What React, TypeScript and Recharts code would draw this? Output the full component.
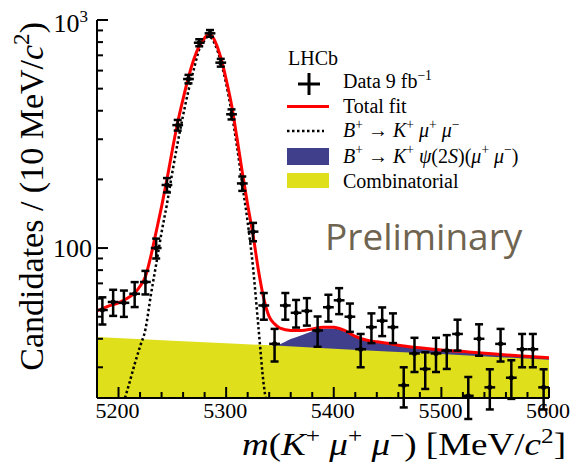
import React from 'react'
import {
  ComposedChart,
  XAxis,
  YAxis,
  Area,
  Line,
  Scatter,
  ErrorBar,
  Legend,
  Customized,
} from 'recharts'

// data: candidates per 10 MeV bin
const binCentres = [
  5185, 5195, 5205, 5215, 5225, 5235, 5245, 5255, 5265, 5275,
  5285, 5295, 5305, 5315, 5325, 5335, 5345, 5355, 5365, 5375,
  5385, 5395, 5405, 5415, 5425, 5435, 5445, 5455, 5465, 5475,
  5485, 5495, 5505, 5515, 5525, 5535, 5545, 5555, 5565, 5575,
  5585, 5595,
]
const candidates = [
  53.5, 58, 57.5, 63, 71, 100, 189, 346, 551, 795,
  874, 650, 386, 192, 118, 56, 38, 56, 52, 53,
  43.5, 55, 59, 50, 36, 45, 48, 45, 25, 34.5,
  29.5, 34.5, 35.5, 42, 22.5, 40, 24.5, 38, 27, 36,
  36, 24.5,
]
const candidateErrors = [
  7.3, 7.6, 7.6, 7.9, 8.4, 10, 13.7, 18.6, 23.5, 28.2,
  29.6, 25.5, 19.6, 13.9, 10.9, 7.5, 6.2, 7.5, 7.2, 7.3,
  6.6, 7.4, 7.7, 7.1, 6, 6.7, 6.9, 6.7, 5, 5.9,
  5.4, 5.9, 6, 6.5, 4.7, 6.3, 4.9, 6.2, 5.2, 6,
  6, 4.9,
]
const halfBin = 5

// total fit (red)
const totalMass = [
  5180, 5190, 5200, 5210, 5215, 5220, 5225, 5230, 5235, 5240,
  5245, 5250, 5255, 5260, 5265, 5270, 5275, 5280, 5283, 5286,
  5290, 5295, 5300, 5305, 5310, 5315, 5320, 5325, 5330, 5335,
  5340, 5345, 5350, 5360, 5370, 5380, 5390, 5400, 5410, 5420,
  5430, 5440, 5450, 5460, 5480, 5500, 5525, 5550, 5575, 5600,
]
const totalValues = [
  53, 55.5, 57.5, 61, 63.5, 68, 75, 92, 118, 152,
  200, 269, 356, 451, 561, 673, 769, 834, 862, 858,
  800, 685, 550, 425, 305, 215, 155, 114, 80, 60,
  50, 46.5, 44.5, 43.5, 43.5, 44.2, 45, 45, 43.5, 41,
  39.5, 38.8, 38.2, 37.5, 36.5, 35.7, 35, 34.3, 33.6, 33,
]

// B+ -> K+ mu+ mu- signal (dotted)
const signalMass = [
  5206, 5210, 5215, 5220, 5225, 5230, 5235, 5240, 5245, 5250,
  5255, 5260, 5265, 5270, 5275, 5280, 5283, 5286, 5290, 5295,
  5300, 5305, 5310, 5315, 5320, 5325, 5330, 5335, 5337,
]
const signalValues = [
  22, 25.5, 31, 37, 44, 62, 85, 117, 156, 215,
  290, 382, 491, 608, 743, 815, 845, 835, 775, 660,
  525, 395, 280, 190, 130, 82, 45, 25, 21.5,
]

// psi(2S) component, top edge of the stack (blue)
const psiMass = [5340, 5350, 5360, 5370, 5380, 5390, 5400, 5410, 5420, 5430, 5440, 5450, 5460, 5480, 5500, 5550, 5600]
const psiTop = [37, 37.9, 39.9, 41.5, 43.2, 44.3, 44.4, 43, 41, 39.5, 38.7, 38, 37.4, 36.4, 35.6, 34.2, 32.9]

// combinatorial (yellow)
const combMass = [5180, 5250, 5300, 5350, 5400, 5450, 5500, 5550, 5600]
const combValues = [40.7, 39.2, 38.2, 37.3, 36.2, 35.2, 34.3, 33.3, 32.4]

const xTicks = [
  5200, 5220, 5240, 5260, 5280, 5300, 5320, 5340, 5360, 5380, 5400,
  5420, 5440, 5460, 5480, 5500, 5520, 5540, 5560, 5580, 5600,
]
const yTicks = [30, 40, 50, 60, 70, 80, 90, 100, 200, 300, 400, 500, 600, 700, 800, 900, 1000]

const SERIF = '"Liberation Serif", "Times New Roman", serif'
const YELLOW = '#dfdf1c'
const BLUE = '#3f3f8c'

const points = binCentres.map((m, i) => ({ m, v: candidates[i], err: candidateErrors[i], xerr: halfBin }))
const totalData = totalMass.map((m, i) => ({ m, v: totalValues[i] }))
const signalData = signalMass.map((m, i) => ({ m, v: signalValues[i] }))
const psiData = psiMass.map((m, i) => ({ m, v: psiTop[i] }))
const combData = combMass.map((m, i) => ({ m, v: combValues[i] }))

type Seg = { t: string; i?: boolean; s?: boolean }

// text with italics and superscripts, ROOT TLatex style
function Rich({ segs, size, lift = 0.42 }: { segs: Seg[]; size: number; lift?: number }) {
  let lifted = false
  const rise = size * lift
  return (
    <>
      {segs.map((g, k) => {
        let dy = 0
        if (g.s && !lifted) {
          dy = -rise
          lifted = true
        } else if (!g.s && lifted) {
          dy = rise
          lifted = false
        }
        return (
          <tspan
            key={k}
            dy={dy || undefined}
            fontStyle={g.i ? 'italic' : undefined}
            fontSize={g.s ? size * 0.68 : undefined}
          >
            {g.t}
          </tspan>
        )
      })}
    </>
  )
}

const yTitle: Seg[] = [{ t: 'Candidates / (10 MeV/' }, { t: 'c', i: true }, { t: '2', s: true }, { t: ')' }]
const xTitle: Seg[] = [
  { t: 'm', i: true }, { t: '(' }, { t: 'K', i: true }, { t: '+', s: true }, { t: ' ' },
  { t: 'μ', i: true }, { t: '+', s: true }, { t: ' ' }, { t: 'μ', i: true }, { t: '−', s: true },
  { t: ') [MeV/' }, { t: 'c', i: true }, { t: '2', s: true }, { t: ']' },
]
const dataLabel: Seg[] = [{ t: 'Data 9 fb' }, { t: '−1', s: true }]
const signalLabel: Seg[] = [
  { t: 'B', i: true }, { t: '+', s: true }, { t: ' → ' }, { t: 'K', i: true }, { t: '+', s: true }, { t: ' ' },
  { t: 'μ', i: true }, { t: '+', s: true }, { t: ' ' }, { t: 'μ', i: true }, { t: '−', s: true },
]
const psiLabel: Seg[] = [
  { t: 'B', i: true }, { t: '+', s: true }, { t: ' → ' }, { t: 'K', i: true }, { t: '+', s: true }, { t: ' ' },
  { t: 'ψ', i: true }, { t: '(2' }, { t: 'S', i: true }, { t: ')(' }, { t: 'μ', i: true }, { t: '+', s: true },
  { t: ' ' }, { t: 'μ', i: true }, { t: '−', s: true }, { t: ')' },
]

const MAJOR = 11
const MINOR = 6

function BottomTick({ x, y, payload }: any) {
  const major = payload.value % 100 === 0
  return (
    <g>
      <line x1={x} x2={x} y1={y} y2={y - (major ? MAJOR : MINOR)} stroke="#000" strokeWidth={2} />
      {major && (
        <text x={x - 1} y={y + 20} textAnchor="middle" fontSize={22} fontFamily={SERIF} fill="#000">
          {payload.value}
        </text>
      )}
    </g>
  )
}

function TopTick({ x, y, payload }: any) {
  const major = payload.value % 100 === 0
  return <line x1={x} x2={x} y1={y} y2={y + (major ? MAJOR : MINOR)} stroke="#000" strokeWidth={2} />
}

function LeftTick({ x, y, payload }: any) {
  const v = payload.value
  const major = v === 100 || v === 1000
  return (
    <g>
      <line x1={x} x2={x + (major ? MAJOR : MINOR)} y1={y} y2={y} stroke="#000" strokeWidth={2} />
      {v === 100 && (
        <text x={x - 5} y={y + 9} textAnchor="end" fontSize={26} fontFamily={SERIF} fill="#000">
          100
        </text>
      )}
      {v === 1000 && (
        <text x={x - 9} y={y + 12} textAnchor="end" fontSize={26} fontFamily={SERIF} fill="#000">
          10<tspan dy={-10} fontSize={17}>3</tspan>
        </text>
      )}
    </g>
  )
}

function RightTick({ x, y, payload }: any) {
  const major = payload.value === 100 || payload.value === 1000
  return <line x1={x} x2={x - (major ? MAJOR : MINOR)} y1={y} y2={y} stroke="#000" strokeWidth={2} />
}

function YTitle({ viewBox }: any) {
  const x = 43
  const y = viewBox.y + 2
  return (
    <text
      x={x}
      y={y}
      transform={`rotate(-90, ${x}, ${y})`}
      textAnchor="end"
      fontSize={34}
      fontFamily={SERIF}
      fill="#000"
      style={{ whiteSpace: 'pre' }}
    >
      <Rich segs={yTitle} size={34} />
    </text>
  )
}

function XTitle({ viewBox }: any) {
  return (
    <text
      x={viewBox.x + 145}
      y={viewBox.y + 57}
      textLength={324}
      lengthAdjust="spacingAndGlyphs"
      fontSize={32}
      fontFamily={SERIF}
      fill="#000"
      style={{ whiteSpace: 'pre' }}
    >
      <Rich segs={xTitle} size={32} lift={0.36} />
    </text>
  )
}

function Marker({ cx, cy }: any) {
  return <circle cx={cx} cy={cy} r={2.5} fill="#000" />
}

// legend box, drawn the ROOT way
function LegendBox() {
  const tx = 63
  const fs = 20
  const text = (y: number, segs: Seg[]) => (
    <text x={tx} y={y} fontSize={fs} fontFamily={SERIF} fill="#000" style={{ whiteSpace: 'pre' }}>
      <Rich segs={segs} size={fs} />
    </text>
  )
  return (
    <svg width={290} height={160}>
      <text x={8} y={25} fontSize={fs} fontFamily={SERIF} fill="#000">LHCb</text>
      <line x1={18} x2={40} y1={44} y2={44} stroke="#000" strokeWidth={3} />
      <line x1={29} x2={29} y1={33} y2={55} stroke="#000" strokeWidth={3} />
      {text(48, dataLabel)}
      <line x1={7} x2={49} y1={66.5} y2={66.5} stroke="#ff0000" strokeWidth={3} />
      {text(72.5, [{ t: 'Total fit' }])}
      <line x1={7} x2={44} y1={91} y2={91} stroke="#000" strokeWidth={2.5} strokeDasharray="2.5 2.5" />
      {text(97, signalLabel)}
      <rect x={7} y={108} width={42} height={17} fill={BLUE} />
      {text(122.5, psiLabel)}
      <rect x={7} y={133} width={42} height={15} fill={YELLOW} />
      {text(148, [{ t: 'Combinatorial' }])}
    </svg>
  )
}

function Preliminary() {
  return (
    <text x={325} y={250} fontSize={37} fontFamily='"Open Sans", sans-serif' fill="#6f6450">
      Preliminary
    </text>
  )
}

export default function App() {
  return (
    <div style={{ position: 'absolute', left: 0, top: 0, width: 577, height: 466, background: '#fff' }}>
      <ComposedChart
        width={577}
        height={466}
        margin={{ top: 20, right: 28, bottom: 0, left: 0 }}
        style={{ fontFamily: SERIF }}
      >
        <XAxis
          dataKey="m"
          type="number"
          domain={[5180, 5600]}
          allowDataOverflow
          ticks={xTicks}
          interval={0}
          tick={BottomTick}
          tickLine={false}
          tickSize={0}
          tickMargin={0}
          axisLine={{ stroke: '#000', strokeWidth: 2 }}
          height={68}
          label={<XTitle />}
        />
        <XAxis
          xAxisId="top"
          orientation="top"
          dataKey="m"
          type="number"
          domain={[5180, 5600]}
          allowDataOverflow
          ticks={xTicks}
          interval={0}
          tick={TopTick}
          tickLine={false}
          tickSize={0}
          tickMargin={0}
          axisLine={{ stroke: '#000', strokeWidth: 2 }}
          height={0}
        />
        <YAxis
          type="number"
          scale="log"
          domain={[22, 1000]}
          allowDataOverflow
          ticks={yTicks}
          interval={0}
          tick={LeftTick}
          tickLine={false}
          tickSize={0}
          tickMargin={0}
          axisLine={{ stroke: '#000', strokeWidth: 2 }}
          width={97}
          label={<YTitle />}
        />
        <YAxis
          yAxisId="right"
          orientation="right"
          type="number"
          scale="log"
          domain={[22, 1000]}
          allowDataOverflow
          ticks={yTicks}
          interval={0}
          tick={RightTick}
          tickLine={false}
          tickSize={0}
          tickMargin={0}
          axisLine={{ stroke: '#000', strokeWidth: 2 }}
          width={0}
        />

        <Area
          data={psiData}
          dataKey="v"
          type="monotone"
          fill={BLUE}
          fillOpacity={1}
          stroke="none"
          baseValue={22}
          isAnimationActive={false}
        />
        <Area
          data={combData}
          dataKey="v"
          type="linear"
          fill={YELLOW}
          fillOpacity={1}
          stroke="none"
          baseValue={22}
          isAnimationActive={false}
        />
        <Line
          data={signalData}
          dataKey="v"
          type="monotone"
          stroke="#000"
          strokeWidth={2.5}
          strokeDasharray="2.5 2.5"
          dot={false}
          isAnimationActive={false}
        />
        <Line
          data={totalData}
          dataKey="v"
          type="monotone"
          stroke="#ff0000"
          strokeWidth={3}
          dot={false}
          isAnimationActive={false}
        />
        <Scatter data={points} dataKey="v" fill="#000" shape={Marker} isAnimationActive={false}>
          <ErrorBar dataKey="err" direction="y" width={4} stroke="#000" strokeWidth={2.5} isAnimationActive={false} />
          <ErrorBar dataKey="xerr" direction="x" width={0} stroke="#000" strokeWidth={2.5} isAnimationActive={false} />
        </Scatter>

        <Customized component={Preliminary} />
        <Legend
          layout="horizontal"
          verticalAlign="middle"
          align="center"
          content={() => <LegendBox />}
          wrapperStyle={{ position: 'absolute', left: 280, top: 40, width: 290, height: 160 }}
        />
      </ComposedChart>
    </div>
  )
}
